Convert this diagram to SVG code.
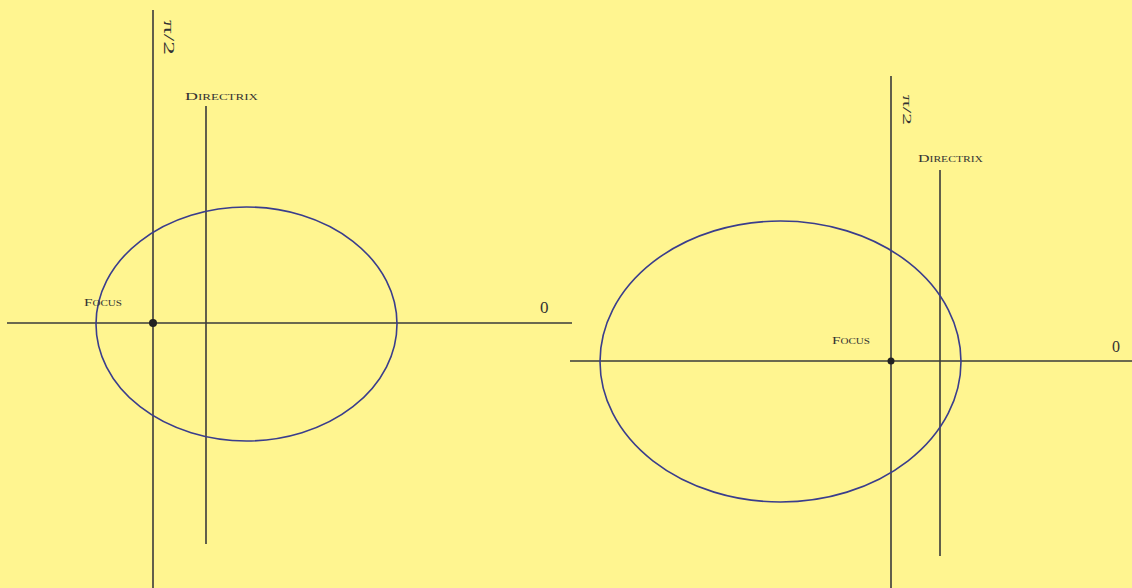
<svg xmlns="http://www.w3.org/2000/svg" width="1132" height="588" viewBox="0 0 1132 588">
<style>
.ax{stroke:#3a3a3a;stroke-width:1.6;fill:none}
.el{stroke:#3a3d8c;stroke-width:1.6;fill:none}
.t{font-family:"Liberation Serif",serif;fill:#333}
.sc{font-family:"Liberation Serif",serif;fill:#333;font-size:11px;font-variant:small-caps}
</style>
<rect width="1132" height="588" fill="#fff590"/>
<g id="connectors">
<line class="ax" x1="7" y1="323" x2="572" y2="323"/>
<line class="ax" x1="153" y1="10" x2="153" y2="588"/>
<line class="ax" x1="206" y1="106" x2="206" y2="544"/>
<line class="ax" x1="570" y1="361" x2="1132" y2="361"/>
<line class="ax" x1="891" y1="76" x2="891" y2="588"/>
<line class="ax" x1="940" y1="170" x2="940" y2="556"/>
</g>
<g id="ellipse-left"><ellipse class="el" cx="246.5" cy="324" rx="150.5" ry="117"/></g>
<g id="ellipse-right"><ellipse class="el" cx="780.5" cy="361.5" rx="180.5" ry="140.5"/></g>
<g id="focus-left"><circle cx="153" cy="323" r="4" fill="#222"/><text class="sc" x="84" y="306" textLength="38" lengthAdjust="spacingAndGlyphs">Focus</text></g>
<g id="focus-right"><circle cx="891" cy="361" r="3.5" fill="#222"/><text class="sc" x="832" y="344" textLength="38" lengthAdjust="spacingAndGlyphs">Focus</text></g>
<g id="directrix-left"><text class="sc" x="185" y="100" textLength="73" lengthAdjust="spacingAndGlyphs">Directrix</text></g>
<g id="directrix-right"><text class="sc" x="918" y="162" textLength="65" lengthAdjust="spacingAndGlyphs">Directrix</text></g>
<g id="labels">
<text class="t" x="540" y="313" font-size="17">0</text>
<text class="t" x="1112" y="352" font-size="16">0</text>
<text class="t" transform="translate(164,20) rotate(90)" font-size="15" textLength="35" lengthAdjust="spacingAndGlyphs">π/2</text>
<text class="t" transform="translate(903,95) rotate(90)" font-size="13" textLength="30" lengthAdjust="spacingAndGlyphs">π/2</text>
</g>
</svg>
